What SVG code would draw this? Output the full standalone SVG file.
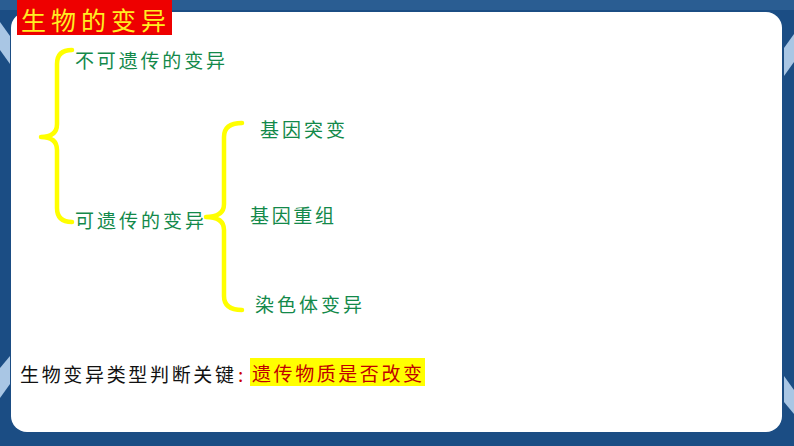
<svg xmlns="http://www.w3.org/2000/svg" width="794" height="446" viewBox="0 0 794 446">
<style>
.g{font-family:"Noto Sans CJK SC","Noto Sans",sans-serif;fill:#13894a;font-size:19px}
.b{fill:none;stroke:#ffff00;stroke-width:4.5;stroke-linecap:round;stroke-linejoin:round}
.k{font-family:"Noto Sans CJK SC","Noto Sans",sans-serif;font-size:19px}
</style>
<rect x="0" y="0" width="794" height="446" fill="#1b4d84"/>
<rect x="0" y="0" width="794" height="10" fill="#2a5d92"/>
<polygon points="0,22 10,36 10,64 0,50" fill="#a9c6e4"/>
<polygon points="0,368 10,356 10,384 0,398" fill="#a9c6e4"/>
<polygon points="784,48 794,34 794,62 784,76" fill="#a9c6e4"/>
<polygon points="784,376 794,390 794,414 784,402" fill="#a9c6e4"/>
<rect x="11" y="12" width="771" height="420" rx="16" fill="#ffffff"/>
<g id="title">
<rect x="17" y="0" width="155" height="35" fill="#ee0000"/>
<text x="21" y="30" font-family="Noto Sans CJK SC,sans-serif" font-size="25" fill="#ffee22" textLength="145" lengthAdjust="spacing">生物的变异</text>
</g>
<g id="connectors">
<path class="b" d="M72,50 Q57,50 57,64 L57,124 Q57,137 41,137 Q57,137 57,150 L57,208 Q57,222 72,222"/>
<path class="b" d="M242,123 Q224,123 224,137 L224,204 Q224,217 206,217 Q224,217 224,230 L224,296 Q224,310 242,310"/>
</g>
<g id="n1"><text class="g" x="75" y="68" textLength="150" lengthAdjust="spacing">不可遗传的变异</text></g>
<g id="n2"><text class="g" x="75" y="228" textLength="129" lengthAdjust="spacing">可遗传的变异</text></g>
<g id="n3"><text class="g" x="260" y="137" textLength="85" lengthAdjust="spacing">基因突变</text></g>
<g id="n4"><text class="g" x="250" y="223" textLength="84" lengthAdjust="spacing">基因重组</text></g>
<g id="n5"><text class="g" x="255" y="312" textLength="107" lengthAdjust="spacing">染色体变异</text></g>
<g id="key">
<text class="k" x="20" y="382" fill="#111111" textLength="214" lengthAdjust="spacing">生物变异类型判断关键</text>
<text class="k" x="238" y="382" fill="#cc0000">:</text>
<rect x="250" y="358" width="175" height="28" fill="#ffff00"/>
<text class="k" x="252" y="381" fill="#c00000" textLength="170" lengthAdjust="spacing">遗传物质是否改变</text>
</g>
</svg>
